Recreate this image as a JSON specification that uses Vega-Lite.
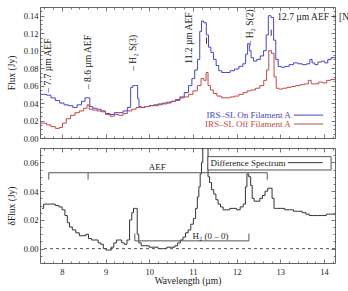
{
  "$schema": "https://vega.github.io/schema/vega-lite/v6.json",
  "background": "white",
  "padding": {"left": 5, "top": 6, "right": 0, "bottom": 0},
  "spacing": 4,
  "config": {
    "font": "Liberation Serif",
    "view": {"stroke": "#666", "strokeWidth": 1},
    "axis": {"domain": false, "grid": false, "labelFontSize": 8.5, "titleFontSize": 9.5, "titleFontWeight": "normal", "labelColor": "#222", "titleColor": "#222", "tickColor": "#555", "tickWidth": 0.8}
  },
  "datasets": {
    "top": [
      {"wl": 7.52, "flux": 0.050, "s": "On"}, {"wl": 7.60, "flux": 0.050, "s": "On"}, {"wl": 7.70, "flux": 0.049, "s": "On"}, {"wl": 7.80, "flux": 0.046, "s": "On"}, {"wl": 7.90, "flux": 0.043, "s": "On"}, {"wl": 8.00, "flux": 0.040, "s": "On"}, {"wl": 8.10, "flux": 0.038, "s": "On"}, {"wl": 8.20, "flux": 0.037, "s": "On"}, {"wl": 8.30, "flux": 0.035, "s": "On"}, {"wl": 8.40, "flux": 0.038, "s": "On"}, {"wl": 8.50, "flux": 0.042, "s": "On"}, {"wl": 8.56, "flux": 0.046, "s": "On"}, {"wl": 8.62, "flux": 0.046, "s": "On"}, {"wl": 8.66, "flux": 0.036, "s": "On"}, {"wl": 8.75, "flux": 0.034, "s": "On"}, {"wl": 8.85, "flux": 0.033, "s": "On"}, {"wl": 8.95, "flux": 0.031, "s": "On"}, {"wl": 9.05, "flux": 0.028, "s": "On"}, {"wl": 9.15, "flux": 0.027, "s": "On"}, {"wl": 9.25, "flux": 0.029, "s": "On"}, {"wl": 9.35, "flux": 0.029, "s": "On"}, {"wl": 9.45, "flux": 0.031, "s": "On"}, {"wl": 9.55, "flux": 0.035, "s": "On"}, {"wl": 9.60, "flux": 0.058, "s": "On"}, {"wl": 9.65, "flux": 0.060, "s": "On"}, {"wl": 9.72, "flux": 0.060, "s": "On"}, {"wl": 9.75, "flux": 0.045, "s": "On"}, {"wl": 9.78, "flux": 0.036, "s": "On"}, {"wl": 9.85, "flux": 0.035, "s": "On"}, {"wl": 9.95, "flux": 0.036, "s": "On"}, {"wl": 10.05, "flux": 0.037, "s": "On"}, {"wl": 10.15, "flux": 0.038, "s": "On"}, {"wl": 10.25, "flux": 0.039, "s": "On"}, {"wl": 10.35, "flux": 0.040, "s": "On"}, {"wl": 10.45, "flux": 0.041, "s": "On"}, {"wl": 10.55, "flux": 0.042, "s": "On"}, {"wl": 10.65, "flux": 0.044, "s": "On"}, {"wl": 10.75, "flux": 0.047, "s": "On"}, {"wl": 10.85, "flux": 0.052, "s": "On"}, {"wl": 10.95, "flux": 0.060, "s": "On"}, {"wl": 11.00, "flux": 0.068, "s": "On"}, {"wl": 11.08, "flux": 0.078, "s": "On"}, {"wl": 11.13, "flux": 0.090, "s": "On"}, {"wl": 11.18, "flux": 0.122, "s": "On"}, {"wl": 11.21, "flux": 0.134, "s": "On"}, {"wl": 11.28, "flux": 0.132, "s": "On"}, {"wl": 11.33, "flux": 0.118, "s": "On"}, {"wl": 11.38, "flux": 0.104, "s": "On"}, {"wl": 11.44, "flux": 0.098, "s": "On"}, {"wl": 11.50, "flux": 0.090, "s": "On"}, {"wl": 11.56, "flux": 0.083, "s": "On"}, {"wl": 11.62, "flux": 0.077, "s": "On"}, {"wl": 11.70, "flux": 0.075, "s": "On"}, {"wl": 11.80, "flux": 0.075, "s": "On"}, {"wl": 11.90, "flux": 0.077, "s": "On"}, {"wl": 12.00, "flux": 0.079, "s": "On"}, {"wl": 12.10, "flux": 0.082, "s": "On"}, {"wl": 12.18, "flux": 0.085, "s": "On"}, {"wl": 12.23, "flux": 0.096, "s": "On"}, {"wl": 12.27, "flux": 0.108, "s": "On"}, {"wl": 12.31, "flux": 0.100, "s": "On"}, {"wl": 12.35, "flux": 0.092, "s": "On"}, {"wl": 12.42, "flux": 0.088, "s": "On"}, {"wl": 12.50, "flux": 0.090, "s": "On"}, {"wl": 12.58, "flux": 0.094, "s": "On"}, {"wl": 12.65, "flux": 0.100, "s": "On"}, {"wl": 12.70, "flux": 0.118, "s": "On"}, {"wl": 12.75, "flux": 0.140, "s": "On"}, {"wl": 12.82, "flux": 0.138, "s": "On"}, {"wl": 12.87, "flux": 0.112, "s": "On"}, {"wl": 12.92, "flux": 0.090, "s": "On"}, {"wl": 12.98, "flux": 0.082, "s": "On"}, {"wl": 13.05, "flux": 0.081, "s": "On"}, {"wl": 13.15, "flux": 0.082, "s": "On"}, {"wl": 13.25, "flux": 0.084, "s": "On"}, {"wl": 13.35, "flux": 0.086, "s": "On"}, {"wl": 13.45, "flux": 0.085, "s": "On"}, {"wl": 13.55, "flux": 0.084, "s": "On"}, {"wl": 13.65, "flux": 0.085, "s": "On"}, {"wl": 13.70, "flux": 0.090, "s": "On"}, {"wl": 13.75, "flux": 0.086, "s": "On"}, {"wl": 13.82, "flux": 0.084, "s": "On"}, {"wl": 13.90, "flux": 0.087, "s": "On"}, {"wl": 13.98, "flux": 0.088, "s": "On"}, {"wl": 14.05, "flux": 0.086, "s": "On"}, {"wl": 14.12, "flux": 0.090, "s": "On"}, {"wl": 14.20, "flux": 0.092, "s": "On"}, {"wl": 14.25, "flux": 0.092, "s": "On"},
      {"wl": 7.52, "flux": 0.017, "s": "Off"}, {"wl": 7.60, "flux": 0.017, "s": "Off"}, {"wl": 7.70, "flux": 0.015, "s": "Off"}, {"wl": 7.80, "flux": 0.013, "s": "Off"}, {"wl": 7.90, "flux": 0.011, "s": "Off"}, {"wl": 7.98, "flux": 0.012, "s": "Off"}, {"wl": 8.05, "flux": 0.017, "s": "Off"}, {"wl": 8.15, "flux": 0.022, "s": "Off"}, {"wl": 8.25, "flux": 0.026, "s": "Off"}, {"wl": 8.35, "flux": 0.029, "s": "Off"}, {"wl": 8.45, "flux": 0.031, "s": "Off"}, {"wl": 8.55, "flux": 0.034, "s": "Off"}, {"wl": 8.60, "flux": 0.038, "s": "Off"}, {"wl": 8.65, "flux": 0.033, "s": "Off"}, {"wl": 8.75, "flux": 0.032, "s": "Off"}, {"wl": 8.85, "flux": 0.031, "s": "Off"}, {"wl": 8.95, "flux": 0.030, "s": "Off"}, {"wl": 9.05, "flux": 0.027, "s": "Off"}, {"wl": 9.15, "flux": 0.025, "s": "Off"}, {"wl": 9.25, "flux": 0.027, "s": "Off"}, {"wl": 9.35, "flux": 0.026, "s": "Off"}, {"wl": 9.45, "flux": 0.028, "s": "Off"}, {"wl": 9.55, "flux": 0.031, "s": "Off"}, {"wl": 9.65, "flux": 0.033, "s": "Off"}, {"wl": 9.75, "flux": 0.035, "s": "Off"}, {"wl": 9.85, "flux": 0.035, "s": "Off"}, {"wl": 9.95, "flux": 0.036, "s": "Off"}, {"wl": 10.05, "flux": 0.037, "s": "Off"}, {"wl": 10.15, "flux": 0.037, "s": "Off"}, {"wl": 10.25, "flux": 0.038, "s": "Off"}, {"wl": 10.35, "flux": 0.039, "s": "Off"}, {"wl": 10.45, "flux": 0.040, "s": "Off"}, {"wl": 10.55, "flux": 0.042, "s": "Off"}, {"wl": 10.65, "flux": 0.043, "s": "Off"}, {"wl": 10.75, "flux": 0.046, "s": "Off"}, {"wl": 10.85, "flux": 0.047, "s": "Off"}, {"wl": 10.95, "flux": 0.050, "s": "Off"}, {"wl": 11.05, "flux": 0.054, "s": "Off"}, {"wl": 11.15, "flux": 0.060, "s": "Off"}, {"wl": 11.22, "flux": 0.068, "s": "Off"}, {"wl": 11.28, "flux": 0.066, "s": "Off"}, {"wl": 11.32, "flux": 0.075, "s": "Off"}, {"wl": 11.37, "flux": 0.060, "s": "Off"}, {"wl": 11.43, "flux": 0.055, "s": "Off"}, {"wl": 11.50, "flux": 0.051, "s": "Off"}, {"wl": 11.60, "flux": 0.048, "s": "Off"}, {"wl": 11.70, "flux": 0.046, "s": "Off"}, {"wl": 11.80, "flux": 0.046, "s": "Off"}, {"wl": 11.90, "flux": 0.047, "s": "Off"}, {"wl": 12.00, "flux": 0.048, "s": "Off"}, {"wl": 12.10, "flux": 0.050, "s": "Off"}, {"wl": 12.20, "flux": 0.052, "s": "Off"}, {"wl": 12.28, "flux": 0.054, "s": "Off"}, {"wl": 12.38, "flux": 0.055, "s": "Off"}, {"wl": 12.48, "flux": 0.057, "s": "Off"}, {"wl": 12.58, "flux": 0.060, "s": "Off"}, {"wl": 12.66, "flux": 0.066, "s": "Off"}, {"wl": 12.71, "flux": 0.078, "s": "Off"}, {"wl": 12.76, "flux": 0.100, "s": "Off"}, {"wl": 12.83, "flux": 0.097, "s": "Off"}, {"wl": 12.88, "flux": 0.070, "s": "Off"}, {"wl": 12.93, "flux": 0.057, "s": "Off"}, {"wl": 13.00, "flux": 0.056, "s": "Off"}, {"wl": 13.10, "flux": 0.057, "s": "Off"}, {"wl": 13.20, "flux": 0.058, "s": "Off"}, {"wl": 13.30, "flux": 0.059, "s": "Off"}, {"wl": 13.40, "flux": 0.060, "s": "Off"}, {"wl": 13.50, "flux": 0.061, "s": "Off"}, {"wl": 13.60, "flux": 0.062, "s": "Off"}, {"wl": 13.68, "flux": 0.066, "s": "Off"}, {"wl": 13.73, "flux": 0.062, "s": "Off"}, {"wl": 13.82, "flux": 0.062, "s": "Off"}, {"wl": 13.92, "flux": 0.064, "s": "Off"}, {"wl": 14.02, "flux": 0.063, "s": "Off"}, {"wl": 14.10, "flux": 0.066, "s": "Off"}, {"wl": 14.20, "flux": 0.067, "s": "Off"}, {"wl": 14.25, "flux": 0.067, "s": "Off"}
    ],
    "diff": [
      {"wl": 7.55, "d": 0.028}, {"wl": 7.62, "d": 0.031}, {"wl": 7.70, "d": 0.031}, {"wl": 7.80, "d": 0.031}, {"wl": 7.90, "d": 0.030}, {"wl": 7.97, "d": 0.029}, {"wl": 8.04, "d": 0.027}, {"wl": 8.10, "d": 0.023}, {"wl": 8.15, "d": 0.018}, {"wl": 8.20, "d": 0.015}, {"wl": 8.28, "d": 0.013}, {"wl": 8.36, "d": 0.011}, {"wl": 8.44, "d": 0.009}, {"wl": 8.52, "d": 0.009}, {"wl": 8.58, "d": 0.010}, {"wl": 8.64, "d": 0.007}, {"wl": 8.72, "d": 0.006}, {"wl": 8.80, "d": 0.006}, {"wl": 8.86, "d": 0.004}, {"wl": 8.92, "d": 0.003}, {"wl": 8.98, "d": 0.000}, {"wl": 9.04, "d": -0.001}, {"wl": 9.10, "d": -0.001}, {"wl": 9.16, "d": 0.001}, {"wl": 9.22, "d": 0.004}, {"wl": 9.28, "d": 0.006}, {"wl": 9.34, "d": 0.006}, {"wl": 9.40, "d": 0.004}, {"wl": 9.46, "d": 0.003}, {"wl": 9.52, "d": 0.006}, {"wl": 9.58, "d": 0.020}, {"wl": 9.62, "d": 0.025}, {"wl": 9.66, "d": 0.028}, {"wl": 9.71, "d": 0.028}, {"wl": 9.74, "d": 0.010}, {"wl": 9.78, "d": 0.004}, {"wl": 9.85, "d": 0.002}, {"wl": 9.95, "d": 0.002}, {"wl": 10.05, "d": 0.001}, {"wl": 10.15, "d": 0.001}, {"wl": 10.25, "d": 0.000}, {"wl": 10.35, "d": 0.000}, {"wl": 10.45, "d": 0.001}, {"wl": 10.55, "d": 0.001}, {"wl": 10.62, "d": 0.002}, {"wl": 10.68, "d": 0.004}, {"wl": 10.74, "d": 0.006}, {"wl": 10.80, "d": 0.008}, {"wl": 10.86, "d": 0.011}, {"wl": 10.92, "d": 0.013}, {"wl": 10.98, "d": 0.017}, {"wl": 11.04, "d": 0.021}, {"wl": 11.08, "d": 0.028}, {"wl": 11.12, "d": 0.036}, {"wl": 11.15, "d": 0.043}, {"wl": 11.18, "d": 0.052}, {"wl": 11.21, "d": 0.060}, {"wl": 11.24, "d": 0.075}, {"wl": 11.33, "d": 0.075}, {"wl": 11.36, "d": 0.050}, {"wl": 11.40, "d": 0.046}, {"wl": 11.45, "d": 0.041}, {"wl": 11.50, "d": 0.038}, {"wl": 11.55, "d": 0.034}, {"wl": 11.60, "d": 0.031}, {"wl": 11.66, "d": 0.029}, {"wl": 11.72, "d": 0.027}, {"wl": 11.80, "d": 0.027}, {"wl": 11.88, "d": 0.028}, {"wl": 11.96, "d": 0.028}, {"wl": 12.04, "d": 0.027}, {"wl": 12.12, "d": 0.029}, {"wl": 12.18, "d": 0.031}, {"wl": 12.22, "d": 0.043}, {"wl": 12.25, "d": 0.052}, {"wl": 12.30, "d": 0.050}, {"wl": 12.34, "d": 0.044}, {"wl": 12.37, "d": 0.035}, {"wl": 12.43, "d": 0.033}, {"wl": 12.50, "d": 0.033}, {"wl": 12.56, "d": 0.035}, {"wl": 12.62, "d": 0.037}, {"wl": 12.68, "d": 0.040}, {"wl": 12.74, "d": 0.042}, {"wl": 12.79, "d": 0.042}, {"wl": 12.83, "d": 0.035}, {"wl": 12.88, "d": 0.028}, {"wl": 12.95, "d": 0.028}, {"wl": 13.05, "d": 0.028}, {"wl": 13.15, "d": 0.027}, {"wl": 13.25, "d": 0.027}, {"wl": 13.35, "d": 0.026}, {"wl": 13.45, "d": 0.026}, {"wl": 13.55, "d": 0.025}, {"wl": 13.62, "d": 0.024}, {"wl": 13.70, "d": 0.023}, {"wl": 13.80, "d": 0.023}, {"wl": 13.90, "d": 0.023}, {"wl": 14.00, "d": 0.023}, {"wl": 14.10, "d": 0.024}, {"wl": 14.20, "d": 0.024}, {"wl": 14.25, "d": 0.024}
    ]
  },
  "vconcat": [
    {
      "width": 295,
      "height": 131,
      "layer": [
        {
          "data": {"name": "top"},
          "mark": {"type": "line", "interpolate": "step", "strokeWidth": 1, "clip": true},
          "encoding": {
            "x": {"field": "wl", "type": "quantitative", "scale": {"domain": [7.5, 14.25], "nice": false, "zero": false},
                  "axis": {"orient": "bottom", "labels": false, "title": null, "values": [8, 9, 10, 11, 12, 13, 14], "tickSize": -4}},
            "y": {"field": "flux", "type": "quantitative", "scale": {"domain": [0, 0.15], "nice": false, "zero": false},
                  "axis": {"orient": "left", "values": [0, 0.02, 0.04, 0.06, 0.08, 0.1, 0.12, 0.14], "format": ".2f", "title": "Flux (Jy)", "tickSize": -4, "labelPadding": 6, "minExtent": 24, "maxExtent": 24, "titlePadding": 0}},
            "color": {"field": "s", "type": "nominal", "scale": {"domain": ["On", "Off"], "range": ["#4646c2", "#c24848"]}, "legend": null}
          }
        },
        {
          "data": {"values": [
            {"x": 7.68, "y": 0.052, "t": "– 7.7 µm AEF"},
            {"x": 8.60, "y": 0.056, "t": "– 8.6 µm AEF"},
            {"x": 9.63, "y": 0.077, "t": "– H₂ S(3)"},
            {"x": 10.90, "y": 0.085, "t": "11.2 µm AEF"},
            {"x": 12.30, "y": 0.106, "t": "– H₂ S(2)"}
          ]},
          "mark": {"type": "text", "angle": 270, "align": "left", "baseline": "middle", "fontSize": 9.5, "color": "#222"},
          "encoding": {
            "x": {"field": "x", "type": "quantitative", "axis": {"orient": "top", "labels": false, "title": null, "values": [8, 9, 10, 11, 12, 13, 14], "tickSize": -4}},
            "y": {"field": "y", "type": "quantitative", "axis": {"orient": "right", "labels": false, "title": null, "values": [0, 0.02, 0.04, 0.06, 0.08, 0.1, 0.12, 0.14], "tickSize": -4}},
            "text": {"field": "t"}
          }
        },
        {
          "data": {"values": [
            {"x": 13.31, "x2": 13.98, "y": 0.0262, "s": "On"},
            {"x": 13.31, "x2": 13.98, "y": 0.0160, "s": "Off"}
          ]},
          "mark": {"type": "rule", "strokeWidth": 1},
          "encoding": {
            "x": {"field": "x", "type": "quantitative", "axis": {"orient": "bottom", "labels": false, "title": null, "values": [7.6, 7.8, 8.2, 8.4, 8.6, 8.8, 9.2, 9.4, 9.6, 9.8, 10.2, 10.4, 10.6, 10.8, 11.2, 11.4, 11.6, 11.8, 12.2, 12.4, 12.6, 12.8, 13.2, 13.4, 13.6, 13.8, 14.2], "tickSize": -2}},
            "x2": {"field": "x2"},
            "y": {"field": "y", "type": "quantitative", "axis": {"orient": "left", "labels": false, "title": null, "values": [0.005, 0.01, 0.015, 0.025, 0.03, 0.035, 0.045, 0.05, 0.055, 0.065, 0.07, 0.075, 0.085, 0.09, 0.095, 0.105, 0.11, 0.115, 0.125, 0.13, 0.135, 0.145], "tickSize": -2}},
            "color": {"field": "s", "type": "nominal", "legend": null}
          }
        },
        {
          "data": {"values": [
            {"x": 11.31, "y": 0.108, "y2": 0.115},
            {"x": 12.79, "y": 0.117, "y2": 0.124}
          ]},
          "mark": {"type": "rule", "strokeWidth": 1, "color": "#333"},
          "encoding": {
            "x": {"field": "x", "type": "quantitative", "axis": {"orient": "top", "labels": false, "title": null, "values": [7.6, 7.8, 8.2, 8.4, 8.6, 8.8, 9.2, 9.4, 9.6, 9.8, 10.2, 10.4, 10.6, 10.8, 11.2, 11.4, 11.6, 11.8, 12.2, 12.4, 12.6, 12.8, 13.2, 13.4, 13.6, 13.8, 14.2], "tickSize": -2}},
            "y": {"field": "y", "type": "quantitative", "axis": {"orient": "right", "labels": false, "title": null, "values": [0.005, 0.01, 0.015, 0.025, 0.03, 0.035, 0.045, 0.05, 0.055, 0.065, 0.07, 0.075, 0.085, 0.09, 0.095, 0.105, 0.11, 0.115, 0.125, 0.13, 0.135, 0.145], "tickSize": -2}},
            "y2": {"field": "y2"}
          }
        },
        {
          "data": {"values": [
            {"x": 13.24, "y": 0.0262, "t": "IRS–SL On Filament A", "s": "On"},
            {"x": 13.24, "y": 0.0160, "t": "IRS–SL Off Filament A", "s": "Off"}
          ]},
          "mark": {"type": "text", "align": "right", "baseline": "middle", "fontSize": 9},
          "encoding": {
            "x": {"field": "x", "type": "quantitative", "axis": null},
            "y": {"field": "y", "type": "quantitative", "axis": null},
            "text": {"field": "t"},
            "color": {"field": "s", "type": "nominal", "legend": null}
          }
        },
        {
          "data": {"values": [
            {"x": 12.93, "y": 0.138, "t": "12.7 µm AEF + [Ne"}
          ]},
          "mark": {"type": "text", "align": "left", "baseline": "middle", "fontSize": 9.5, "color": "#222"},
          "encoding": {
            "x": {"field": "x", "type": "quantitative", "axis": null},
            "y": {"field": "y", "type": "quantitative", "axis": null},
            "text": {"field": "t"}
          }
        }
      ],
      "resolve": {"axis": {"x": "independent", "y": "independent"}}
    },
    {
      "width": 295,
      "height": 115,
      "layer": [
        {
          "data": {"name": "diff"},
          "mark": {"type": "line", "interpolate": "step", "strokeWidth": 1, "color": "#333", "clip": true},
          "encoding": {
            "x": {"field": "wl", "type": "quantitative", "scale": {"domain": [7.5, 14.25], "nice": false, "zero": false},
                  "axis": {"orient": "bottom", "values": [8, 9, 10, 11, 12, 13, 14], "format": "d", "title": "Wavelength (µm)", "tickSize": -4, "labelPadding": 8, "titlePadding": 0}},
            "y": {"field": "d", "type": "quantitative", "scale": {"domain": [-0.01, 0.07], "nice": false, "zero": false},
                  "axis": {"orient": "left", "values": [0, 0.02, 0.04, 0.06], "format": ".2f", "title": "δFlux (Jy)", "tickSize": -4, "labelPadding": 6, "minExtent": 24, "maxExtent": 24, "titlePadding": 0}}
          }
        },
        {
          "data": {"values": [
            {"x": 7.7, "x2": 12.7, "y": 0.0528, "y2": 0.0528},
            {"x": 7.7, "x2": 7.7, "y": 0.0528, "y2": 0.048},
            {"x": 8.6, "x2": 8.6, "y": 0.0528, "y2": 0.048},
            {"x": 12.7, "x2": 12.7, "y": 0.0528, "y2": 0.048},
            {"x": 9.67, "x2": 12.28, "y": 0.0054, "y2": 0.0054},
            {"x": 9.67, "x2": 9.67, "y": 0.0054, "y2": 0.0105},
            {"x": 12.28, "x2": 12.28, "y": 0.0054, "y2": 0.0105}
          ]},
          "mark": {"type": "rule", "strokeWidth": 1, "color": "#555"},
          "encoding": {
            "x": {"field": "x", "type": "quantitative", "axis": {"orient": "top", "labels": false, "title": null, "values": [8, 9, 10, 11, 12, 13, 14], "tickSize": -4}},
            "x2": {"field": "x2"},
            "y": {"field": "y", "type": "quantitative", "axis": {"orient": "right", "labels": false, "title": null, "values": [0, 0.02, 0.04, 0.06], "tickSize": -4}},
            "y2": {"field": "y2"}
          }
        },
        {
          "data": {"values": [{"y": 0}]},
          "mark": {"type": "rule", "strokeWidth": 1, "color": "#555", "strokeDash": [3, 3]},
          "encoding": {
            "y": {"field": "y", "type": "quantitative", "axis": {"orient": "left", "labels": false, "title": null, "values": [-0.005, 0.005, 0.01, 0.015, 0.025, 0.03, 0.035, 0.045, 0.05, 0.055, 0.065], "tickSize": -2}}
          }
        },
        {
          "data": {"values": [{"x": 11.34, "x2": 14.16, "y": 0.0547, "y2": 0.064}]},
          "mark": {"type": "rect", "fill": "white", "stroke": "#555", "strokeWidth": 1},
          "encoding": {
            "x": {"field": "x", "type": "quantitative", "axis": {"orient": "top", "labels": false, "title": null, "values": [7.6, 7.8, 8.2, 8.4, 8.6, 8.8, 9.2, 9.4, 9.6, 9.8, 10.2, 10.4, 10.6, 10.8, 11.2, 11.4, 11.6, 11.8, 12.2, 12.4, 12.6, 12.8, 13.2, 13.4, 13.6, 13.8, 14.2], "tickSize": -2}},
            "x2": {"field": "x2"},
            "y": {"field": "y", "type": "quantitative", "axis": {"orient": "right", "labels": false, "title": null, "values": [-0.005, 0.005, 0.01, 0.015, 0.025, 0.03, 0.035, 0.045, 0.05, 0.055, 0.065], "tickSize": -2}},
            "y2": {"field": "y2"}
          }
        },
        {
          "data": {"values": [{"x": 13.17, "x2": 13.97, "y": 0.0598}]},
          "mark": {"type": "rule", "strokeWidth": 1, "color": "#333"},
          "encoding": {
            "x": {"field": "x", "type": "quantitative", "axis": {"orient": "bottom", "labels": false, "title": null, "values": [7.6, 7.8, 8.2, 8.4, 8.6, 8.8, 9.2, 9.4, 9.6, 9.8, 10.2, 10.4, 10.6, 10.8, 11.2, 11.4, 11.6, 11.8, 12.2, 12.4, 12.6, 12.8, 13.2, 13.4, 13.6, 13.8, 14.2], "tickSize": -2}},
            "x2": {"field": "x2"},
            "y": {"field": "y", "type": "quantitative", "axis": null}
          }
        },
        {
          "data": {"values": [
            {"x": 9.99, "y": 0.057, "t": "AEF"},
            {"x": 10.99, "y": 0.0088, "t": "H₂ (0 – 0)"},
            {"x": 11.40, "y": 0.0598, "t": "Difference Spectrum"}
          ]},
          "mark": {"type": "text", "align": "left", "baseline": "middle", "fontSize": 9, "color": "#222"},
          "encoding": {
            "x": {"field": "x", "type": "quantitative", "axis": null},
            "y": {"field": "y", "type": "quantitative", "axis": null},
            "text": {"field": "t"}
          }
        }
      ],
      "resolve": {"axis": {"x": "independent", "y": "independent"}}
    }
  ]
}
